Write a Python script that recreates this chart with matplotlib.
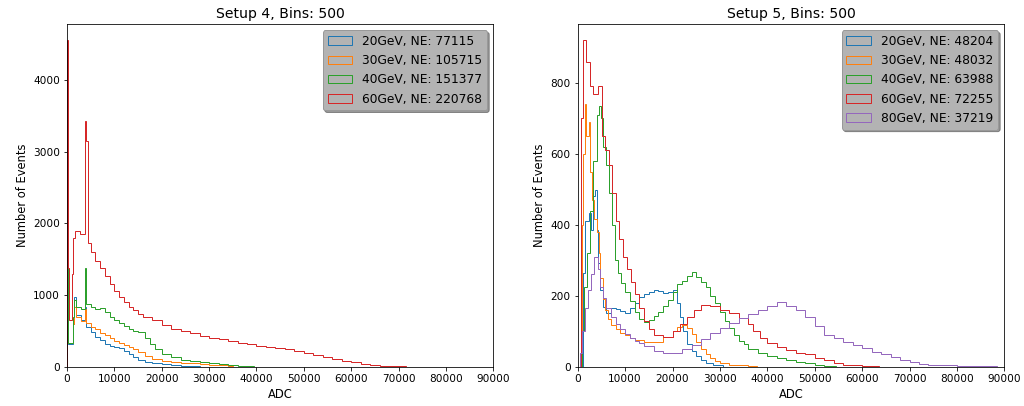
import matplotlib
matplotlib.use("Agg")
import matplotlib.pyplot as plt

# ---------------- Setup 4 ----------------
s4_labels = ["20GeV, NE: 77115", "30GeV, NE: 105715", "40GeV, NE: 151377", "60GeV, NE: 220768"]

s4_20_edges = [0, 200, 1200, 1500, 2000, 3000, 3900, 4100, 5000, 6000, 7000, 8000, 9000, 10000,
               11000, 12000, 13000, 14000, 15000, 16500, 18000, 20000, 22000, 24000, 26000, 28000]
s4_20_counts = [700, 320, 600, 970, 720, 650, 830, 560, 480, 420, 370, 310, 290, 280,
                260, 220, 180, 140, 100, 70, 52, 37, 22, 12, 5]

s4_30_edges = [0, 200, 1200, 1500, 2000, 3000, 3900, 4100, 5000, 6000, 7000, 8000, 9000, 10000,
               11000, 12000, 13000, 14000, 15000, 16500, 18000, 20000, 22000, 24000, 26000, 28000,
               30000, 32000, 34000, 35000]
s4_30_counts = [745, 330, 600, 837, 700, 640, 800, 610, 560, 520, 470, 440, 400, 360,
                330, 300, 280, 250, 210, 150, 110, 85, 72, 58, 45, 35, 27, 18, 8]

s4_40_edges = [0, 200, 1200, 1500, 2000, 3000, 3900, 4100, 5000, 6000, 7000, 8000, 9000, 10000,
               11000, 12000, 13000, 14000, 15000, 16500, 17500, 18500, 20000, 22000, 24000, 26000,
               28000, 30000, 32000, 34000, 36000, 38000, 39500]
s4_40_counts = [1372, 330, 700, 930, 840, 810, 1372, 870, 830, 810, 820, 760, 700, 650,
                610, 570, 530, 500, 485, 400, 320, 250, 180, 130, 100, 78,
                60, 45, 33, 22, 12, 5]

s4_60_edges = [0, 200, 500, 1000, 1300, 1800, 2800, 3800, 4100, 4400, 5000, 6000, 7000, 8000,
               9000, 10000, 11000, 12000, 13000, 14000, 15000, 16000, 18000, 20000, 22000, 24000,
               26000, 28000, 30000, 32000, 34000, 36000, 38000, 40000, 42000, 44000, 46000, 48000,
               50000, 52000, 54000, 56000, 58000, 60000, 62000, 64000, 66000, 68000, 70000, 71500]
s4_60_counts = [4556, 1380, 650, 1300, 1800, 1890, 1850, 3430, 3150, 1720, 1600, 1480, 1380,
                1270, 1150, 1060, 980, 900, 830, 790, 740, 700, 650, 580, 530, 495,
                465, 435, 405, 380, 355, 335, 315, 295, 280, 265, 245, 220,
                195, 165, 135, 110, 85, 60, 40, 27, 16, 8, 3]

# ---------------- Setup 5 ----------------
s5_labels = ["20GeV, NE: 48204", "30GeV, NE: 48032", "40GeV, NE: 63988", "60GeV, NE: 72255", "80GeV, NE: 37219"]

s5_20_edges = [1100, 1500, 2300, 2800, 3200, 3700, 4000, 4300, 4700, 5300, 6000, 7000, 8000, 9000,
               10000, 11000, 12000, 13000, 14000, 15000, 16000, 17000, 18000, 19000, 20000, 21000,
               21600, 22300, 23000, 24000, 25000, 26000, 27000, 28500, 30700]
s5_20_counts = [263, 410, 432, 385, 480, 498, 385, 291, 216, 169, 150, 165, 162,
                158, 150, 165, 180, 197, 205, 210, 215, 212, 208, 210, 215,
                180, 141, 100, 65, 45, 30, 18, 10, 4]

s5_30_edges = [800, 1200, 1500, 1800, 2300, 2600, 3000, 3500, 4000, 4400, 4800, 5300, 5800, 6400,
               7000, 8000, 9000, 10000, 11000, 12000, 14000, 16000, 18000, 20000, 21000, 22000,
               23000, 24000, 25000, 26000, 27000, 28000, 29000, 30000, 32000, 34000, 36000, 37800]
s5_30_counts = [400, 600, 740, 650, 690, 550, 470, 415, 380, 320, 250, 190, 160,
                135, 118, 105, 95, 88, 82, 75, 70, 70, 85, 100, 112,
                118, 110, 92, 70, 50, 36, 24, 16, 10, 6, 4, 2]

s5_40_edges = [800, 1300, 1900, 2600, 3300, 4000, 4500, 5000, 5300, 6000, 6600, 7200, 7900, 8500,
               9200, 10000, 11000, 12000, 13000, 14000, 15000, 16000, 17000, 18000, 19000, 20000,
               21000, 22000, 23000, 24000, 25000, 26000, 27000, 28000, 29000, 30000, 31000, 32000,
               33000, 34000, 35000, 36000, 38000, 40000, 42000, 44000, 46000, 48000, 50000, 52000,
               54500]
s5_40_counts = [100, 225, 320, 440, 580, 710, 735, 700, 620, 570, 490, 400, 300,
                263, 235, 210, 185, 155, 135, 125, 132, 142, 155, 170, 188,
                210, 232, 243, 255, 268, 252, 240, 225, 200, 180, 155, 130,
                110, 90, 72, 65, 50, 40, 30, 24, 19, 14, 10, 6,
                3]

s5_60_edges = [700, 1100, 1800, 2600, 3300, 4200, 5200, 5800, 6500, 7200, 8000, 8800, 9600, 10400,
               11200, 12000, 13000, 14000, 15000, 16000, 18000, 20000, 21500, 23000, 24500, 26000,
               28000, 30000, 32000, 34000, 36000, 37000, 38500, 40000, 42000, 44000, 46000, 48000,
               50000, 52000, 54000, 56000, 58000, 60000, 63500]
s5_60_counts = [700, 920, 860, 790, 770, 790, 650, 610, 570, 490, 410, 360, 310,
                275, 240, 205, 165, 130, 105, 90, 85, 100, 120, 140, 160,
                175, 170, 160, 150, 138, 120, 100, 80, 66, 55, 47, 40,
                35, 25, 18, 10, 6, 4, 2]

s5_80_edges = [500, 1000, 1500, 2200, 2900, 3500, 4300, 4700, 5300, 6000, 7000, 8000, 9000, 10000,
               11000, 12000, 13000, 14000, 16000, 18000, 20000, 22000, 24000, 26000, 28000, 30000,
               32000, 34000, 36000, 38000, 40000, 42000, 44000, 46000, 48000, 50000, 52000, 54000,
               56000, 58000, 60000, 62000, 64000, 66000, 68000, 70000, 72000, 74000, 76000, 80000,
               84000, 88500]
s5_80_counts = [40, 100, 165, 215, 260, 310, 275, 225, 195, 165, 140, 120, 105,
                92, 82, 73, 66, 58, 45, 40, 40, 50, 62, 78, 95,
                108, 122, 138, 148, 160, 172, 182, 170, 160, 140, 115, 90,
                80, 70, 60, 52, 42, 35, 26, 18, 13, 9, 6, 4,
                2, 1]

colors = ["C0", "C1", "C2", "C3", "C4"]

fig = plt.figure(figsize=(1024 / 72, 406 / 72), dpi=72)
ax1 = fig.add_axes([0.0654, 0.0968, 0.4164, 0.844])
ax2 = fig.add_axes([0.5642, 0.0968, 0.4166, 0.844])

s4 = [(s4_20_edges, s4_20_counts), (s4_30_edges, s4_30_counts),
      (s4_40_edges, s4_40_counts), (s4_60_edges, s4_60_counts)]
s5 = [(s5_20_edges, s5_20_counts), (s5_30_edges, s5_30_counts),
      (s5_40_edges, s5_40_counts), (s5_60_edges, s5_60_counts),
      (s5_80_edges, s5_80_counts)]

for ax, series, labels, title in [(ax1, s4, s4_labels, "Setup 4, Bins: 500"),
                                  (ax2, s5, s5_labels, "Setup 5, Bins: 500")]:
    for (edges, counts), lab, col in zip(series, labels, colors):
        ax.hist(edges[:-1], bins=edges, weights=counts, histtype="step",
                color=col, label=lab, linewidth=1.0)
    ax.set_xlim(0, 90000)
    ax.set_xticks(range(0, 90001, 10000))
    ax.set_title(title, fontsize=14)
    ax.set_xlabel("ADC", fontsize=11.5)
    ax.set_ylabel("Number of Events", fontsize=11.5)
    ax.tick_params(labelsize=10.5)
    leg = ax.legend(loc="upper right", fontsize=12.3, facecolor="#b3b3b3",
                    edgecolor="#999999", shadow=True, framealpha=1.0)

fig.savefig("out.png", dpi=72)
